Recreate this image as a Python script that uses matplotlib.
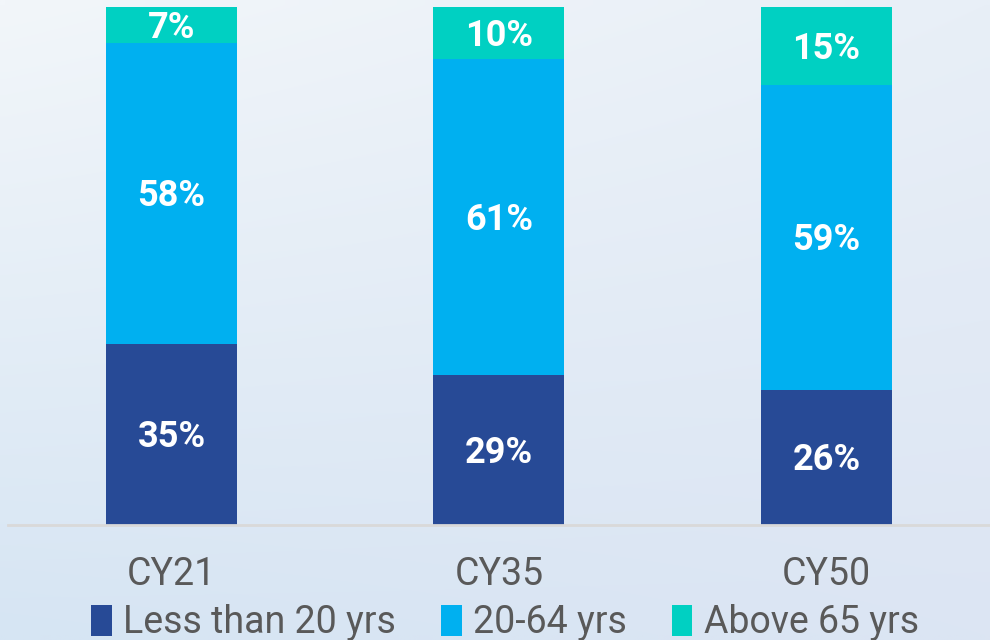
import matplotlib.pyplot as plt
import numpy as np
from matplotlib.patches import Patch

years = ['CY21', 'CY35', 'CY50']
under_20 = [35, 29, 26]
age_20_64 = [58, 61, 59]
above_65 = [7, 10, 15]
groups = ['Less than 20 yrs', '20-64 yrs', 'Above 65 yrs']
colors = ['#274A96', '#00B0F0', '#00D0C2']

plt.rcParams['font.family'] = ['Roboto', 'DejaVu Sans']

fig = plt.figure(figsize=(9.9, 6.4), dpi=100)

# soft background wash
bg = fig.add_axes([0, 0, 1, 1], zorder=-10)
tl = np.array([242, 246, 250]) / 255
tr = np.array([232, 239, 247]) / 255
bl = np.array([214, 229, 243]) / 255
br = np.array([220, 229, 243]) / 255
yy, xx = np.mgrid[0:1:64j, 0:1:100j]
img = (tl[None, None] * ((1 - xx) * (1 - yy))[..., None]
       + tr[None, None] * (xx * (1 - yy))[..., None]
       + bl[None, None] * ((1 - xx) * yy)[..., None]
       + br[None, None] * (xx * yy)[..., None])
bg.imshow(img, aspect='auto', extent=[0, 1, 0, 1], interpolation='bilinear')
bg.axis('off')

ax = fig.add_axes([0.008, 0.1797, 0.992, 0.8094])
ax.patch.set_alpha(0)
x = np.arange(len(years))
w = 0.4
bottoms = np.zeros(len(years))
for vals, col in zip([under_20, age_20_64, above_65], colors):
    bars = ax.bar(x, vals, w, bottom=bottoms, color=col, edgecolor='none')
    for b, v in zip(bars, vals):
        ax.annotate(f'{v}%', (b.get_x() + b.get_width() / 2, b.get_y() + b.get_height() / 2),
                    xytext=(0, -2), textcoords='offset points',
                    ha='center', va='center', color='white',
                    fontsize=26, fontweight='bold')
    bottoms += np.array(vals)

ax.set_xlim(-0.5, 2.5)
ax.set_ylim(0, 100)
ax.set_yticks([])
ax.set_xticks(x)
ax.set_xticklabels(years, fontsize=27, color='#595959')
ax.tick_params(axis='x', length=0, pad=22)
for s in ['top', 'right', 'left']:
    ax.spines[s].set_visible(False)
ax.spines['bottom'].set_color('#D9D9D9')
ax.spines['bottom'].set_linewidth(2)

handles = [Patch(facecolor=c, edgecolor='none') for c in colors]
leg = fig.legend(handles, groups, loc='lower center', bbox_to_anchor=(0.51, -0.025),
                 ncol=3, frameon=False, fontsize=27, handlelength=0.55,
                 handleheight=0.9, handletextpad=0.3, columnspacing=1.2,
                 borderaxespad=0)
for t in leg.get_texts():
    t.set_color('#595959')

fig.savefig('out.png', dpi=100)
